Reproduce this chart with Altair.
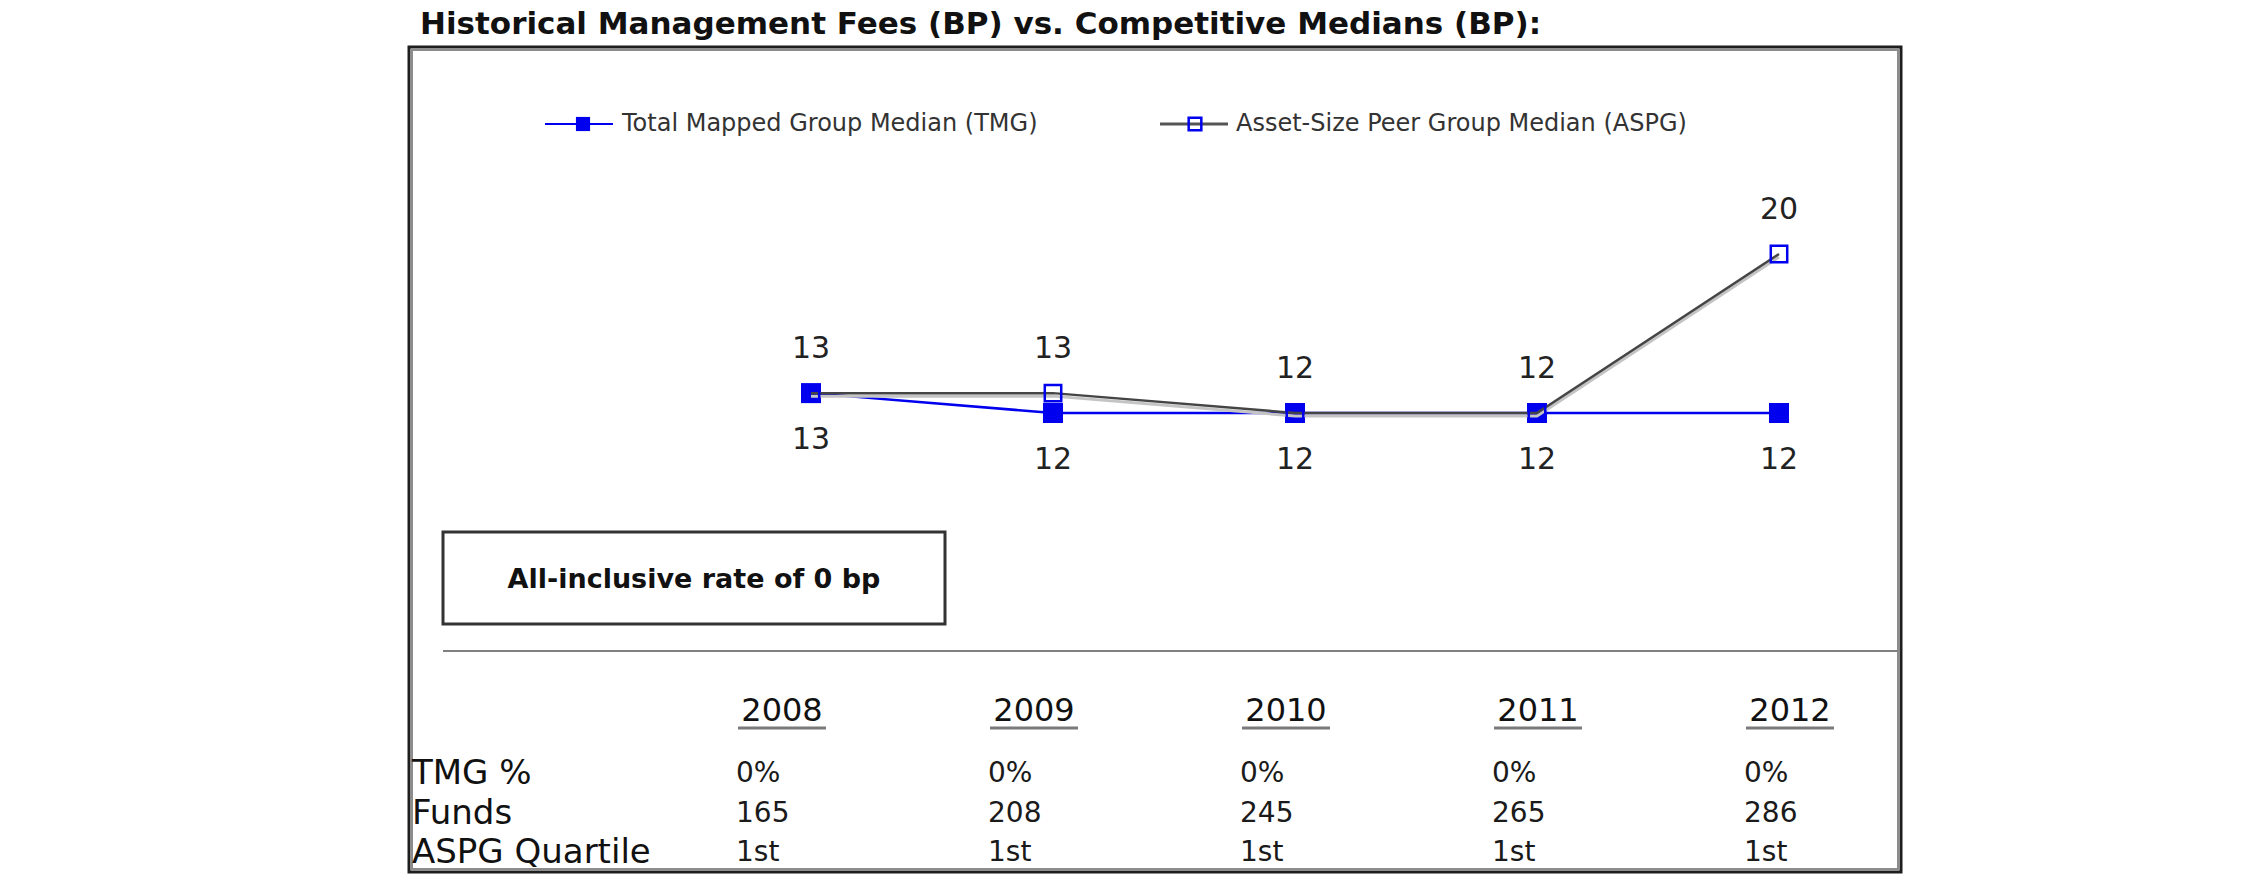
import altair as alt
import pandas as pd

# ---------------- data ----------------
years = [2008, 2009, 2010, 2011, 2012]
tmg_median = [13, 12, 12, 12, 12]
aspg_median = [13, 13, 12, 12, 20]
tmg_pct = ["0%", "0%", "0%", "0%", "0%"]
funds = ["165", "208", "245", "265", "286"]
aspg_quartile = ["1st", "1st", "1st", "1st", "1st"]
row_labels = ["TMG %", "Funds", "ASPG Quartile"]
series_names = ["Total Mapped Group Median (TMG)", "Asset-Size Peer Group Median (ASPG)"]
title_text = "Historical Management Fees (BP) vs. Competitive Medians (BP):"
note_text = "All-inclusive rate of 0 bp"

W, H = 2250, 895
FONT = "DejaVu Sans"
BLUE = "#0000ee"
GREY_LINE = "#454545"

tmg_df = pd.DataFrame({"year": years, "value": tmg_median})
aspg_df = pd.DataFrame({"year": years, "value": aspg_median})

rows = []
for i, yr in enumerate(years):
    rows.append({"year": yr, "row": row_labels[0], "text": tmg_pct[i]})
    rows.append({"year": yr, "row": row_labels[1], "text": funds[i]})
    rows.append({"year": yr, "row": row_labels[2], "text": aspg_quartile[i]})
table_df = pd.DataFrame(rows)
years_df = pd.DataFrame({"year": years, "label": [str(y) for y in years]})
rowlab_df = pd.DataFrame({"row": row_labels})
one = pd.DataFrame({"a": [0]})

# ---------------- scales ----------------
xs = alt.Scale(domain=[2008, 2012], range=[811, 1779])
ys = alt.Scale(domain=[12, 20], range=[413, 254])
tx = alt.Scale(domain=[2008, 2012], range=[782, 1790])
ty = alt.Scale(type="point", domain=row_labels, range=[774, 853], padding=0)

X = alt.X("year:Q", scale=xs, axis=None)
Y = alt.Y("value:Q", scale=ys, axis=None)

# ---------------- frame ----------------
frame_shadow = alt.Chart(one).mark_rect(fillOpacity=0, stroke="#8c8c8c", strokeWidth=2).encode(
    x=alt.value(412), x2=alt.value(1898), y=alt.value(50), y2=alt.value(869))
frame = alt.Chart(one).mark_rect(fillOpacity=0, stroke="#1e1e1e", strokeWidth=3).encode(
    x=alt.value(409), x2=alt.value(1901), y=alt.value(47), y2=alt.value(872))

title = alt.Chart(one).mark_text(
    text=title_text, font=FONT, fontSize=31, fontWeight="bold", align="left",
    baseline="middle", color="#111111").encode(x=alt.value(420), y=alt.value(25))

# ---------------- legend ----------------
leg_df = pd.DataFrame({"name": series_names})
leg1_line = alt.Chart(one).mark_rule(color=BLUE, strokeWidth=2).encode(
    x=alt.value(545), x2=alt.value(613), y=alt.value(124))
leg1_pt = alt.Chart(one).mark_point(shape="square", filled=True, color=BLUE, size=200, opacity=1).encode(
    x=alt.value(583), y=alt.value(124))
leg1_txt = alt.Chart(leg_df.iloc[[0]]).mark_text(
    font=FONT, fontSize=24, align="left", baseline="middle", color="#333333").encode(
    x=alt.value(622), y=alt.value(124), text="name:N")
leg2_line = alt.Chart(one).mark_rule(color="#555555", strokeWidth=3).encode(
    x=alt.value(1160), x2=alt.value(1228), y=alt.value(124))
leg2_pt = alt.Chart(one).mark_point(shape="square", filled=False, color=BLUE, size=160,
                                    strokeWidth=2.5, opacity=1).encode(
    x=alt.value(1195), y=alt.value(124))
leg2_txt = alt.Chart(leg_df.iloc[[1]]).mark_text(
    font=FONT, fontSize=24, align="left", baseline="middle", color="#333333").encode(
    x=alt.value(1236), y=alt.value(124), text="name:N")

# ---------------- series ----------------
tmg_line = alt.Chart(tmg_df).mark_line(color=BLUE, strokeWidth=2.5).encode(x=X, y=Y)
tmg_pts = alt.Chart(tmg_df).mark_point(shape="square", filled=True, color=BLUE, size=400, opacity=1).encode(x=X, y=Y)
aspg_shadow = alt.Chart(aspg_df).mark_line(color="#c4c4c4", strokeWidth=3, yOffset=3).encode(x=X, y=Y)
aspg_line = alt.Chart(aspg_df).mark_line(color=GREY_LINE, strokeWidth=2.5).encode(x=X, y=Y)
aspg_pts = alt.Chart(aspg_df).mark_point(shape="square", filled=False, color=BLUE, size=270,
                                         strokeWidth=2.5, opacity=1).encode(x=X, y=Y)
tmg_lbl = alt.Chart(tmg_df).mark_text(font=FONT, fontSize=30, dy=47, baseline="middle",
                                      color="#222222").encode(x=X, y=Y, text="value:Q")
aspg_lbl = alt.Chart(aspg_df).mark_text(font=FONT, fontSize=30, dy=-44, baseline="middle",
                                        color="#222222").encode(x=X, y=Y, text="value:Q")

# ---------------- note box ----------------
note_box = alt.Chart(one).mark_rect(fill="white", stroke="#333333", strokeWidth=3).encode(
    x=alt.value(443), x2=alt.value(945), y=alt.value(532), y2=alt.value(624))
note = alt.Chart(one).mark_text(text=note_text, font=FONT, fontSize=27, fontWeight="bold",
                                align="center", baseline="middle", color="#111111").encode(
    x=alt.value(694), y=alt.value(580))

sep = alt.Chart(one).mark_rule(color="#808080", strokeWidth=2).encode(
    x=alt.value(443), x2=alt.value(1898), y=alt.value(651))

# ---------------- table ----------------
TX = alt.X("year:Q", scale=tx, axis=None)
yr_hdr = alt.Chart(years_df).mark_text(font=FONT, fontSize=32, baseline="middle", color="#111111").encode(
    x=TX, y=alt.value(711), text="label:N")
yr_ul = alt.Chart(years_df).mark_rule(color="#7a7a7a", strokeWidth=3, xOffset=-44, x2Offset=44).encode(
    x=TX, x2=alt.X2("year"), y=alt.value(728))
row_lbl = alt.Chart(rowlab_df).mark_text(font=FONT, fontSize=34, align="left", baseline="middle",
                                         color="#111111").encode(
    x=alt.value(412), y=alt.Y("row:N", scale=ty, axis=None), text="row:N")
cells = alt.Chart(table_df).mark_text(font=FONT, fontSize=28, align="left", dx=-46, baseline="middle",
                                      color="#1a1a1a").encode(
    x=TX, y=alt.Y("row:N", scale=ty, axis=None), text="text:N")

chart = alt.layer(
    frame_shadow, frame, title,
    leg1_line, leg1_pt, leg1_txt, leg2_line, leg2_pt, leg2_txt,
    tmg_line, tmg_pts, aspg_shadow, aspg_line, aspg_pts, tmg_lbl, aspg_lbl,
    note_box, note, sep,
    yr_hdr, yr_ul, row_lbl, cells,
).resolve_scale(x="independent", y="independent").properties(
    width=W, height=H, padding=0, autosize=alt.AutoSizeParams(type="none"), background="white"
).configure_view(stroke=None)

chart.save("out.html", embed_options={"renderer": "svg", "actions": False})
